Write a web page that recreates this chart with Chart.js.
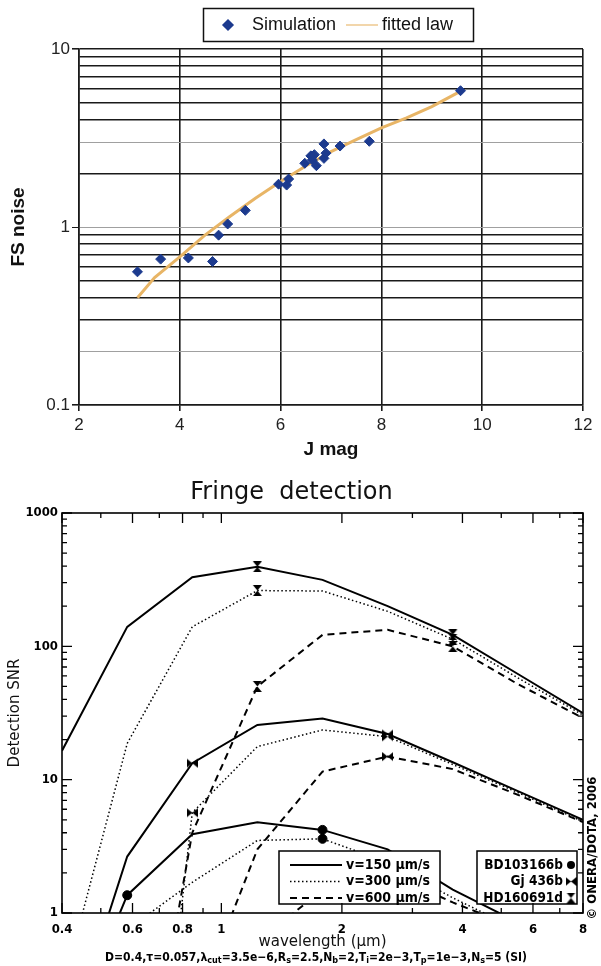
<!DOCTYPE html>
<html>
<head>
<meta charset="utf-8">
<script src="https://cdn.jsdelivr.net/npm/chart.js@4.4.0/dist/chart.umd.min.js"></script>
<style>
  html, body { margin: 0; padding: 0; background: #fff; }
  #wrap { position: relative; width: 601px; height: 966px; }
  canvas { position: absolute; left: 0; }
</style>
</head>
<body>
<div id="wrap">
  <canvas id="noiseChart" width="601" height="470" style="top:0"></canvas>
  <canvas id="snrChart" width="601" height="496" style="top:470px"></canvas>
</div>
<script>
// ---- top panel: FS noise vs J mag
const jMag    = [3.16, 3.62, 4.17, 4.65, 4.77, 4.95, 5.30, 5.96, 6.12, 6.16, 6.48, 6.60, 6.63, 6.67, 6.71, 6.86, 6.86, 6.90, 7.18, 7.76, 9.57]
const fsNoise = [0.56, 0.66, 0.67, 0.64, 0.90, 1.04, 1.24, 1.74, 1.72, 1.86, 2.28, 2.51, 2.38, 2.55, 2.21, 2.93, 2.43, 2.60, 2.85, 3.03, 5.83]
const fitJ     = [3.16, 3.5, 4.0, 4.5, 5.0, 5.5, 6.0, 6.5, 7.0, 7.5, 8.0, 8.5, 9.0, 9.51]
const fitNoise = [0.40, 0.52, 0.68, 0.90, 1.15, 1.45, 1.80, 2.20, 2.65, 3.10, 3.60, 4.10, 4.75, 5.67]
const noiseTicks = [0.1, 0.2, 0.3, 0.4, 0.5, 0.6, 0.7, 0.8, 0.9, 1, 2, 3, 4, 5, 6, 7, 8, 9, 10]

// ---- bottom panel: detection SNR vs wavelength (µm)
const wavelength = [0.4, 0.582, 0.846, 1.23, 1.789, 2.602, 3.783, 5.502, 8.0]
const snrHD150 = [16.5, 140, 330, 395, 315, 200, 122, 62, 31.5]
const snrHD300 = [0.26, 18.7, 140, 262, 260, 183, 113, 58, 30.5]
const snrHD600 = [0.0001, 0.007, 4.0, 50, 122, 133, 100, 52, 29]
const snrGj150 = [0.08, 2.65, 13.3, 25.7, 28.8, 22, 13.5, 8.2, 5.0]
const snrGj300 = [0.00001, 0.0003, 5.65, 17.7, 23.6, 21, 13, 8.0, 4.85]
const snrGj600 = [0.000001, 0.001, 0.17, 3.0, 11.5, 14.9, 12, 7.7, 4.8]
const snrBD150 = [0.09, 1.36, 3.9, 4.8, 4.2, 3.0, 1.5, 0.85, 0.45]
const snrBD300 = [0.3, 0.75, 1.7, 3.5, 3.6, 2.4, 1.3, 0.75, 0.4]
const snrBD600 = [0.00001, 0.001, 0.05, 0.6, 1.5, 2.0, 1.2, 0.77, 0.4]
// wavelength index where each star gets its marker
const markHD = [3, 6]
const markGj = [2, 5]
const markBD = [1, 4]
const speeds = [150, 300, 600]
const xLabels = [0.4, 0.6, 0.8, 1, 2, 4, 6, 8]
const xMinor = [0.5, 0.7, 0.9, 3, 5, 7]
const yLabels = [1, 10, 100, 1000]
const yMinor = [2, 3, 4, 5, 6, 7, 8, 9, 20, 30, 40, 50, 60, 70, 80, 90, 200, 300, 400, 500, 600, 700, 800, 900]

const isDecade = v => Math.abs(Math.log10(v) - Math.round(Math.log10(v))) < 1e-9
const pts = (xs, ys) => xs.map((x, i) => ({ x, y: ys[i] }))

const ARIAL = '"Liberation Sans", Arial, sans-serif'
const IDL = '"DejaVu Sans Condensed", "DejaVu Sans", sans-serif'
const IDL_REG = '"DejaVu Sans", sans-serif'

Chart.defaults.color = '#111'
Chart.defaults.animation = false

// ---------- top chart ----------
const boxLegend = {
  id: 'boxLegend',
  afterDraw(chart) {
    const { ctx } = chart
    const [sim, fit] = chart.data.datasets
    ctx.save()
    ctx.fillStyle = '#fff'
    ctx.fillRect(203, 8, 270, 33)
    ctx.strokeStyle = '#111'
    ctx.lineWidth = 1.5
    ctx.strokeRect(203.5, 8.5, 270, 33)
    ctx.fillStyle = sim.backgroundColor
    ctx.strokeStyle = sim.borderColor
    Chart.helpers.drawPoint(ctx, { pointStyle: 'rectRot', radius: 5, borderWidth: 1 }, 228, 25)
    ctx.strokeStyle = fit.borderColor
    ctx.globalAlpha = 0.55
    ctx.lineWidth = 2
    ctx.beginPath(); ctx.moveTo(346, 25); ctx.lineTo(378, 25); ctx.stroke()
    ctx.globalAlpha = 1
    ctx.fillStyle = '#111'
    ctx.font = '18px ' + ARIAL
    ctx.textBaseline = 'middle'
    ctx.fillText(sim.label, 252, 25)
    ctx.fillText(fit.label, 382, 25)
    ctx.restore()
  }
}

const paleLines = [0.2, 1, 3]
new Chart(document.getElementById('noiseChart'), {
  type: 'scatter',
  data: {
    datasets: [
      {
        label: 'Simulation',
        data: pts(jMag, fsNoise),
        pointStyle: 'rectRot',
        pointRadius: 5,
        backgroundColor: '#1c3a8e',
        borderColor: '#1c3a8e',
        borderWidth: 1,
        order: 0
      },
      {
        label: 'fitted law',
        data: pts(fitJ, fitNoise),
        showLine: true,
        pointRadius: 0,
        borderColor: '#e8b566',
        borderWidth: 3,
        order: 1
      }
    ]
  },
  options: {
    responsive: false,
    devicePixelRatio: 1,
    layout: { padding: { left: 4, right: 18, top: 49, bottom: 0 } },
    plugins: { legend: { display: false }, tooltip: { enabled: false } },
    scales: {
      x: {
        type: 'linear', min: 2, max: 12,
        ticks: { stepSize: 2, padding: 4, color: '#222', font: { family: ARIAL, size: 17 } },
        grid: { color: '#1a1a1a', lineWidth: 1.6, tickLength: 6, tickColor: '#1a1a1a' },
        border: { color: '#1a1a1a', width: 1.6 },
        title: { display: true, text: 'J mag', color: '#111', font: { family: ARIAL, size: 19, weight: 'bold' }, padding: { top: 0, bottom: 8.6 } },
        afterFit(s) { s.height = 65 }
      },
      y: {
        type: 'logarithmic', min: 0.1, max: 10,
        afterBuildTicks(s) { s.ticks = noiseTicks.map(v => ({ value: v })) },
        ticks: { autoSkip: false, padding: 2, color: '#222', font: { family: ARIAL, size: 17 },
          callback: v => isDecade(v) ? String(v) : '' },
        grid: {
          color: c => paleLines.includes(c.tick.value) ? '#a0a0a0' : '#1a1a1a',
          lineWidth: c => paleLines.includes(c.tick.value) ? 1 : 1.6,
          tickLength: 7,
          tickColor: c => isDecade(c.tick.value) ? '#1a1a1a' : 'rgba(0,0,0,0)'
        },
        border: { color: '#1a1a1a', width: 1.6 },
        title: { display: true, text: 'FS noise', color: '#111', font: { family: ARIAL, size: 19, weight: 'bold' }, padding: { top: 3, bottom: 0 } },
        afterFit(s) { s.width = 75 }
      }
    }
  },
  plugins: [boxLegend]
})

// ---------- bottom chart ----------
function markerCanvas(kind) {
  const c = document.createElement('canvas')
  c.width = 11; c.height = 11
  const g = c.getContext('2d')
  g.fillStyle = '#000'
  g.beginPath()
  if (kind === 'hourglass') {
    g.moveTo(1, 0); g.lineTo(10, 0); g.lineTo(1, 11); g.lineTo(10, 11)
  } else {
    g.moveTo(0, 1); g.lineTo(0, 10); g.lineTo(11, 1); g.lineTo(11, 10)
  }
  g.closePath()
  g.fill()
  return c
}

const stars = [
  { name: 'BD103166b', curves: [snrBD150, snrBD300, snrBD600], marks: markBD, style: 'circle' },
  { name: 'Gj 436b', curves: [snrGj150, snrGj300, snrGj600], marks: markGj, style: markerCanvas('bowtie') },
  { name: 'HD160691d', curves: [snrHD150, snrHD300, snrHD600], marks: markHD, style: markerCanvas('hourglass') }
]
const lineStyle = {
  150: { borderDash: [], borderWidth: 2 },
  300: { borderDash: [1.5, 2.5], borderWidth: 1.5 },
  600: { borderDash: [7, 5], borderWidth: 2 }
}

const snrDatasets = []
stars.forEach(star => {
  star.curves.forEach((ys, k) => {
    snrDatasets.push({
      label: star.name + ' v=' + speeds[k],
      data: pts(wavelength, ys),
      showLine: true,
      pointRadius: 0,
      borderColor: '#000',
      clip: 0,
      ...lineStyle[speeds[k]]
    })
  })
})
stars.forEach(star => {
  const data = []
  star.marks.forEach(i => star.curves.forEach(ys => data.push({ x: wavelength[i], y: ys[i] })))
  snrDatasets.push({
    label: star.name,
    data,
    pointStyle: star.style,
    pointRadius: 4.5,
    backgroundColor: '#000',
    borderColor: '#000',
    clip: 0
  })
})

const footnote = [
  ['D=0.4,τ=0.057,λ'], ['cut', 1], ['=3.5e−6,R'], ['s', 1], ['=2.5,N'], ['b', 1], ['=2,T'], ['i', 1],
  ['=2e−3,T'], ['p', 1], ['=1e−3,N'], ['s', 1], ['=5 (SI)']
]

const idlFrame = {
  id: 'idlFrame',
  afterDatasetsDraw(chart) {
    const { ctx, chartArea: a, scales: { x, y } } = chart
    ctx.save()

    // speed legend and star legend, white boxes over the curves
    const b1 = { l: a.right - 304, t: a.bottom - 62, w: 161, h: 53 }
    const b2 = { l: a.right - 106, t: a.bottom - 62, w: 100, h: 53 }
    ctx.fillStyle = '#fff'
    ctx.fillRect(b1.l, b1.t, b1.w, b1.h)
    ctx.fillRect(b2.l, b2.t, b2.w, b2.h)
    ctx.strokeStyle = '#000'
    ctx.lineWidth = 1.5
    ctx.strokeRect(b1.l, b1.t, b1.w, b1.h)
    ctx.strokeRect(b2.l, b2.t, b2.w, b2.h)
    ctx.font = 'bold 14px ' + IDL
    ctx.textBaseline = 'middle'
    speeds.forEach((v, k) => {
      const ry = b1.t + 14 + k * 16.5
      const st = lineStyle[v]
      ctx.setLineDash(st.borderDash)
      ctx.lineWidth = st.borderWidth
      ctx.beginPath(); ctx.moveTo(b1.l + 11, ry); ctx.lineTo(b1.l + 63, ry); ctx.stroke()
      ctx.setLineDash([])
      ctx.fillStyle = '#000'
      ctx.textAlign = 'left'
      ctx.fillText('v=' + v + ' µm/s', b1.l + 67, ry)
    })
    ctx.font = 'bold 13.5px ' + IDL
    stars.forEach((star, k) => {
      const ry = b2.t + 14 + k * 16.5
      ctx.textAlign = 'right'
      ctx.fillText(star.name, b2.l + 86, ry)
      Chart.helpers.drawPoint(ctx, { pointStyle: star.style, radius: 4, borderWidth: 0 }, b2.l + 94, ry)
    })

    // inward ticks on all four sides
    ctx.lineWidth = 1.3
    ctx.beginPath()
    const xt = (vals, len) => vals.forEach(v => {
      const p = x.getPixelForValue(v)
      ctx.moveTo(p, a.bottom); ctx.lineTo(p, a.bottom - len)
      ctx.moveTo(p, a.top); ctx.lineTo(p, a.top + len)
    })
    const yt = (vals, len) => vals.forEach(v => {
      const p = y.getPixelForValue(v)
      ctx.moveTo(a.left, p); ctx.lineTo(a.left + len, p)
      ctx.moveTo(a.right, p); ctx.lineTo(a.right - len, p)
    })
    xt(xLabels, 10); xt(xMinor, 5)
    yt(yLabels, 10); yt(yMinor, 5)
    ctx.stroke()
    ctx.lineWidth = 1.6
    ctx.strokeRect(a.left, a.top, a.right - a.left, a.bottom - a.top)
    ctx.restore()
  },
  afterDraw(chart) {
    const { ctx } = chart
    ctx.save()
    ctx.fillStyle = '#000'
    ctx.textBaseline = 'middle'
    const big = 'bold 12px ' + IDL, small = 'bold 9px ' + IDL
    let total = 0
    footnote.forEach(([t, sub]) => { ctx.font = sub ? small : big; total += ctx.measureText(t).width })
    let fx = 316 - total / 2
    footnote.forEach(([t, sub]) => {
      ctx.font = sub ? small : big
      ctx.textAlign = 'left'
      ctx.fillText(t, fx, sub ? 491 : 488)
      fx += ctx.measureText(t).width
    })
    ctx.translate(593, 378)
    ctx.rotate(-Math.PI / 2)
    ctx.font = 'bold 13px ' + IDL
    ctx.textAlign = 'center'
    ctx.fillText('© ONERA/DOTA, 2006', 0, 0)
    ctx.restore()
  }
}

new Chart(document.getElementById('snrChart'), {
  type: 'scatter',
  data: { datasets: snrDatasets },
  options: {
    responsive: false,
    devicePixelRatio: 1,
    layout: { padding: { left: 0, right: 18, top: 0, bottom: 0 } },
    plugins: {
      legend: { display: false },
      tooltip: { enabled: false },
      title: { display: true, text: 'Fringe  detection', color: '#111', font: { family: IDL_REG, size: 24, weight: 'normal' }, padding: { top: 8, bottom: 6.2 } }
    },
    scales: {
      x: {
        type: 'logarithmic', min: 0.4, max: 8,
        afterBuildTicks(s) { s.ticks = xLabels.map(v => ({ value: v })) },
        ticks: { autoSkip: false, maxRotation: 0, padding: 9, color: '#000', font: { family: IDL, size: 13, weight: 'bold' }, callback: v => String(v) },
        grid: { display: false, drawTicks: false },
        border: { display: false },
        title: { display: true, text: 'wavelength (µm)', color: '#111', font: { family: IDL_REG, size: 15 }, padding: { top: 0, bottom: 15 } },
        afterFit(s) { s.height = 53 }
      },
      y: {
        type: 'logarithmic', min: 1, max: 1000,
        afterBuildTicks(s) { s.ticks = yLabels.map(v => ({ value: v })) },
        ticks: { autoSkip: false, padding: 4, color: '#000', font: { family: IDL, size: 13, weight: 'bold' }, callback: v => String(v) },
        grid: { display: false, drawTicks: false },
        border: { display: false },
        title: { display: true, text: 'Detection SNR', color: '#111', font: { family: IDL_REG, size: 15 }, padding: { top: 6, bottom: 0 } },
        afterFit(s) { s.width = 62 }
      }
    }
  },
  plugins: [idlFrame]
})
</script>
</body>
</html>
